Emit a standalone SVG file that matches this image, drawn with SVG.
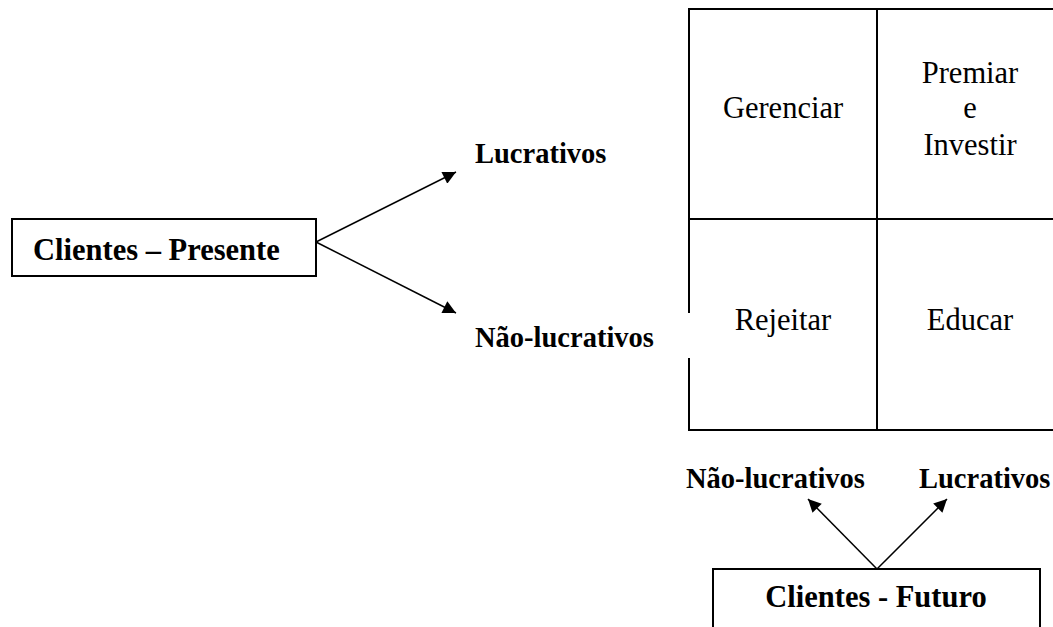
<svg xmlns="http://www.w3.org/2000/svg" width="1053" height="627" viewBox="0 0 1053 627">
  <style>
    .box { fill: #fff; stroke: #000; stroke-width: 2; }
    .grid { fill: none; stroke: #000; stroke-width: 2; }
    .bold { font-family: "Liberation Serif", "Times New Roman", serif; font-weight: bold; fill: #000; }
    .lbl { font-size: 28.5px; }
    .ttl { font-size: 30.5px; }
    .cell { font-size: 30.5px; font-weight: normal; fill: #000; text-anchor: middle; }
    .arrow { stroke: #000; stroke-width: 1.5; fill: none; marker-end: url(#head); }
  </style>
  <defs>
    <marker id="head" viewBox="0 0 10 10" refX="10" refY="5" markerUnits="userSpaceOnUse" markerWidth="15" markerHeight="13" orient="auto">
      <path d="M0,0 L10,5 L0,10 Z" fill="#000"/>
    </marker>
  </defs>
  <rect width="1053" height="627" fill="#fff"/>

  <g id="clientes-presente">
    <rect class="box" x="12" y="219" width="304" height="57"/>
    <text class="bold ttl" x="33" y="260">Clientes – Presente</text>
  </g>

  <g id="label-lucrativos-presente">
    <text class="bold lbl" x="475" y="163">Lucrativos</text>
  </g>
  <g id="label-nao-lucrativos-presente">
    <text class="bold lbl" x="475" y="347">Não-lucrativos</text>
  </g>

  <g id="matriz" font-family="Liberation Serif, Times New Roman, serif">
    <path class="grid" d="M689,313 V9 H1053 M689,358 V430 H1053 M877,9 V430 M689,219 H1053"/>
    <text class="cell" x="783" y="118">Gerenciar</text>
    <text class="cell" x="970" y="83">Premiar</text>
    <text class="cell" x="970" y="118">e</text>
    <text class="cell" x="970" y="155">Investir</text>
    <text class="cell" x="783" y="330">Rejeitar</text>
    <text class="cell" x="970" y="330">Educar</text>
  </g>

  <g id="label-nao-lucrativos-futuro">
    <text class="bold lbl" x="686" y="488">Não-lucrativos</text>
  </g>
  <g id="label-lucrativos-futuro">
    <text class="bold lbl" x="919" y="488">Lucrativos</text>
  </g>

  <g id="clientes-futuro">
    <rect class="box" x="713" y="569" width="327" height="70"/>
    <text class="bold ttl" x="876" y="607" text-anchor="middle">Clientes - Futuro</text>
  </g>

  <g id="connectors">
    <line class="arrow" x1="316" y1="242" x2="456" y2="172"/>
    <line class="arrow" x1="316" y1="242" x2="456" y2="313"/>
    <line class="arrow" x1="877" y1="569" x2="808" y2="499"/>
    <line class="arrow" x1="877" y1="569" x2="947" y2="499"/>
  </g>
</svg>
